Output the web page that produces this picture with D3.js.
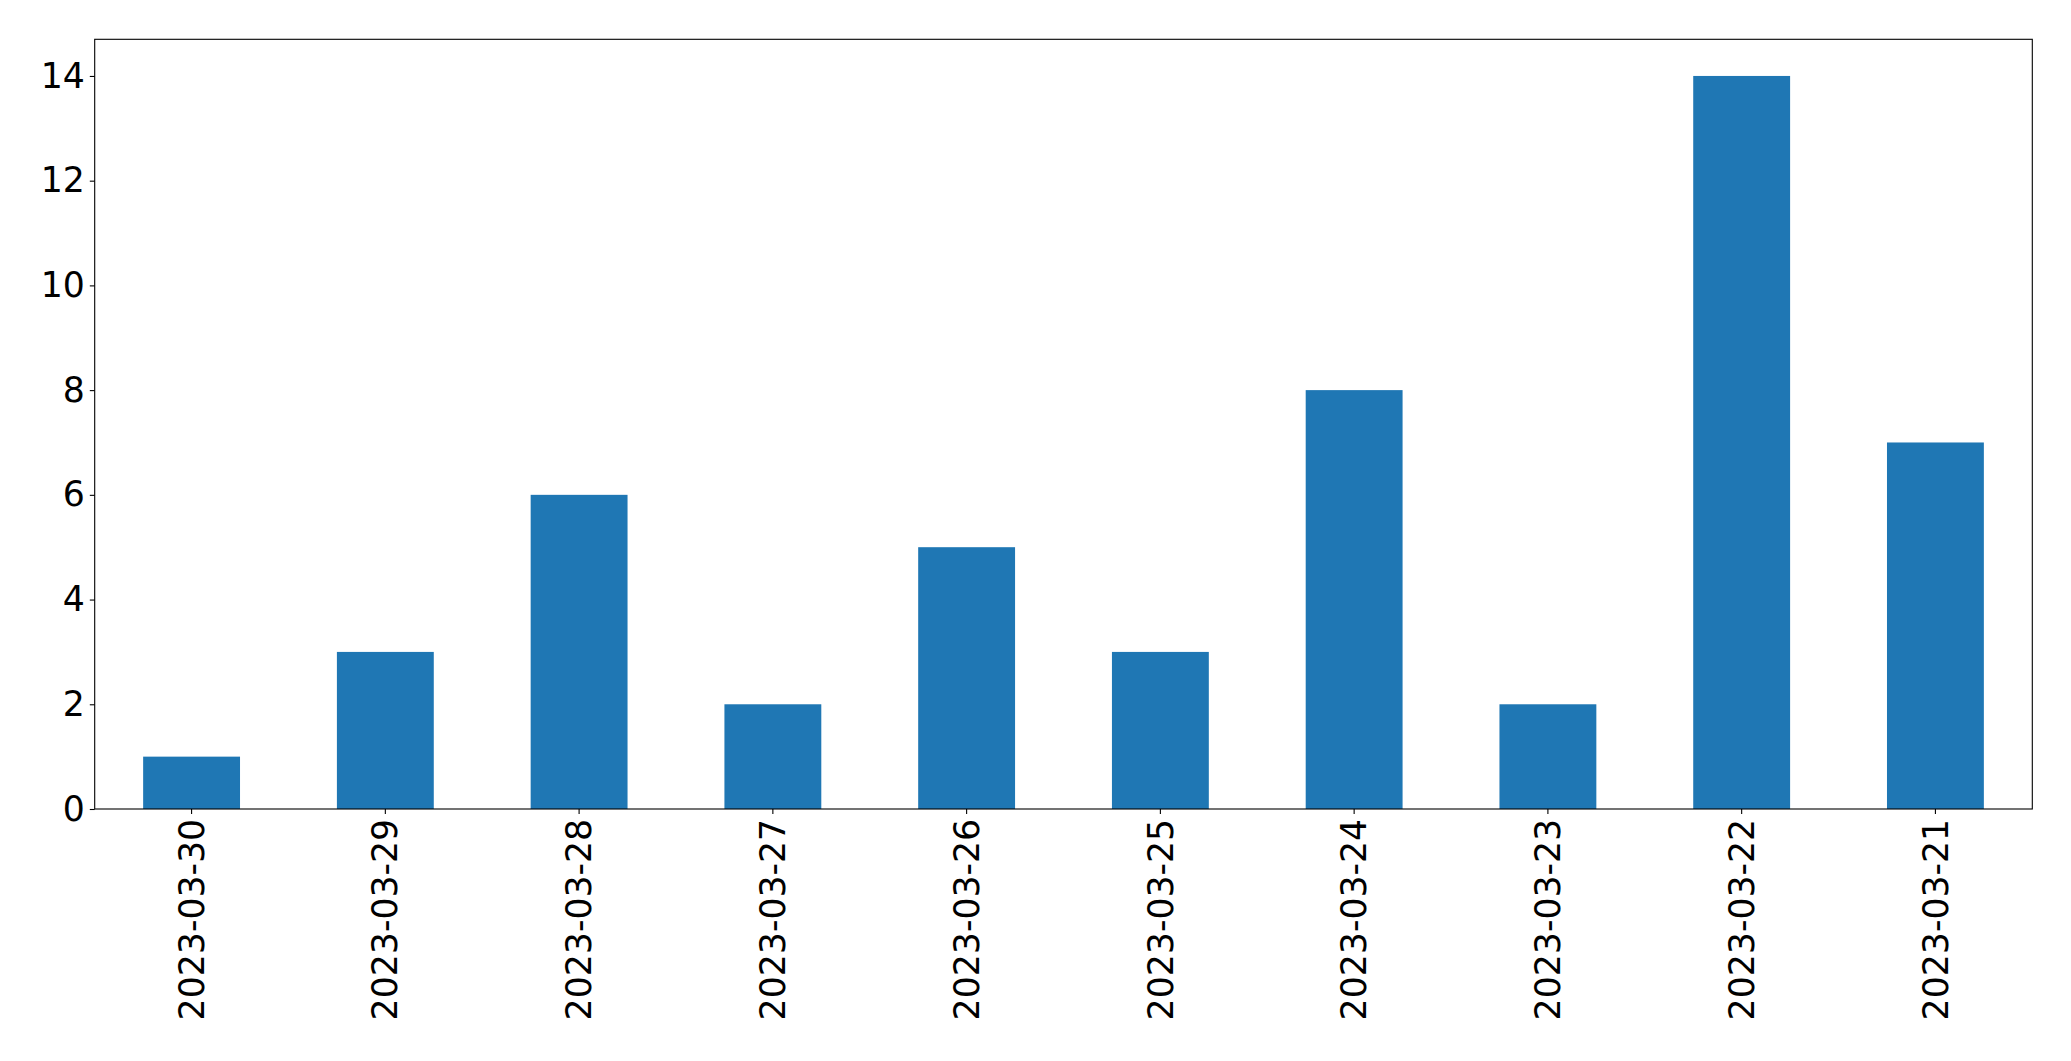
<!DOCTYPE html>
<html>
<head>
<meta charset="utf-8">
<script src="https://cdn.jsdelivr.net/npm/d3@7"></script>
<style>
  html, body { margin: 0; padding: 0; background: #fff; }
  svg { display: block; }
</style>
</head>
<body>
<svg id="chart" width="2071" height="1061"></svg>
<script>
const categories = ["2023-03-30","2023-03-29","2023-03-28","2023-03-27","2023-03-26","2023-03-25","2023-03-24","2023-03-23","2023-03-22","2023-03-21"];
const values = [1, 3, 6, 2, 5, 3, 8, 2, 14, 7];
const yTicks = [0, 2, 4, 6, 8, 10, 12, 14];

const W = 2071, H = 1061;
const margin = { left: 94.7, right: 2071 - 2032.3, top: 39.3, bottom: 1061 - 809 };
const iw = W - margin.left - margin.right;
const ih = H - margin.top - margin.bottom;
const fontSize = 34.7;
const tickLen = 4.9, pad = 4.9;

const svg = d3.select("#chart");
const g = svg.append("g").attr("transform", `translate(${margin.left},${margin.top})`);

const x = d3.scaleBand().domain(categories).range([0, iw]).paddingInner(0.5).paddingOuter(0.25);
const yMax = d3.max(values) * 1.05;
const y = d3.scaleLinear().domain([0, yMax]).range([ih, 0]);

g.selectAll("rect.bar").data(values).join("rect")
  .attr("class", "bar")
  .attr("x", (d, i) => x(categories[i]))
  .attr("width", x.bandwidth())
  .attr("y", d => y(d))
  .attr("height", d => y(0) - y(d))
  .attr("fill", "#1f77b4");

// Y axis
const yAxis = d3.axisLeft(y).tickValues(yTicks).tickFormat(d3.format("d")).tickSize(tickLen).tickPadding(pad);
const yg = g.append("g").call(yAxis);
yg.select(".domain").remove();
yg.selectAll("line").attr("stroke", "#000").attr("stroke-width", 1.1);
yg.selectAll("text").attr("font-family", "DejaVu Sans").attr("font-size", fontSize).attr("fill", "#000");

// X axis
const xAxis = d3.axisBottom(x).tickSize(tickLen).tickPadding(pad);
const xg = g.append("g").attr("transform", `translate(0,${ih})`).call(xAxis);
xg.select(".domain").remove();
xg.selectAll("line").attr("stroke", "#000").attr("stroke-width", 1.1);
xg.selectAll("text")
  .attr("font-family", "DejaVu Sans").attr("font-size", fontSize).attr("fill", "#000")
  .attr("text-anchor", "end")
  .attr("x", 0).attr("y", 0).attr("dy", "0.35em")
  .attr("transform", `translate(0,${tickLen + pad}) rotate(-90)`);

// Frame
g.append("rect").attr("x", 0).attr("y", 0).attr("width", iw).attr("height", ih)
  .attr("fill", "none").attr("stroke", "#000").attr("stroke-width", 1.1);
</script>
</body>
</html>
